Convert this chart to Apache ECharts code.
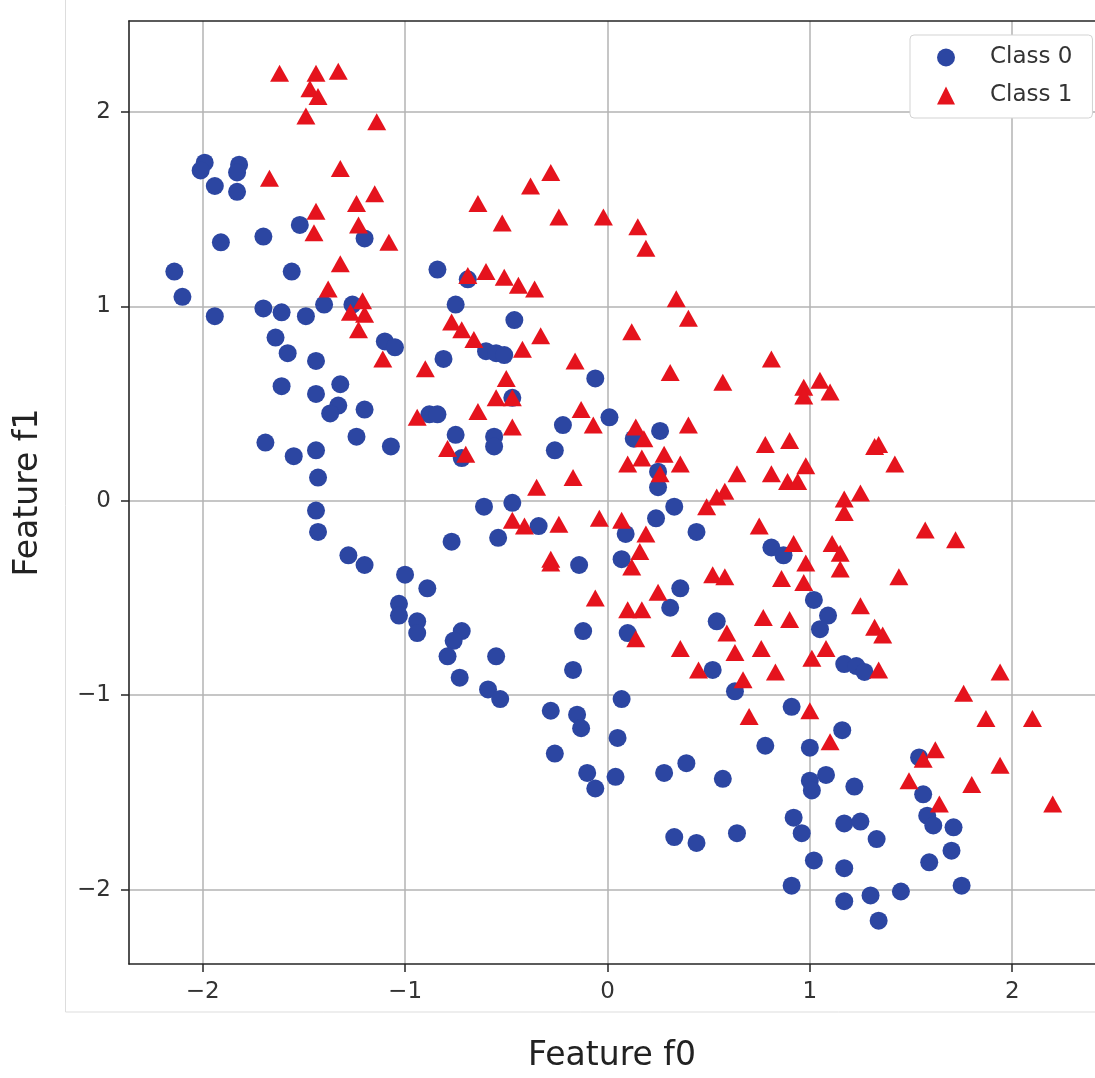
<!DOCTYPE html>
<html>
<head>
<meta charset="utf-8">
<script src="https://cdn.jsdelivr.net/npm/echarts@6/dist/echarts.min.js"></script>
<style>
  html, body { margin: 0; padding: 0; background: #fff; }
  #chart { width: 1095px; height: 1078px; }
</style>
</head>
<body>
<div id="chart"></div>
<script>
// points, [f0, f1]
const class0 = [
  [-1.99, 1.74], [-2.01, 1.70], [-1.82, 1.73], [-1.83, 1.69], [-1.94, 1.62], [-1.83, 1.59],
  [-1.52, 1.42], [-1.20, 1.35], [-1.91, 1.33], [-1.70, 1.36], [-2.14, 1.18], [-1.56, 1.18],
  [-2.10, 1.05], [-1.70, 0.99], [-1.61, 0.97], [-1.49, 0.95], [-1.40, 1.01], [-1.26, 1.01],
  [-1.94, 0.95], [-1.64, 0.84], [-1.58, 0.76], [-1.44, 0.72], [-1.61, 0.59], [-1.44, 0.55],
  [-1.32, 0.60], [-1.33, 0.49], [-1.37, 0.45], [-1.20, 0.47], [-1.24, 0.33], [-1.69, 0.30],
  [-1.55, 0.23], [-1.44, 0.26], [-1.43, 0.12], [-1.44, -0.05], [-1.43, -0.16], [-1.28, -0.28], [-1.20, -0.33],
  [-1.10, 0.82], [-1.05, 0.79], [-0.84, 1.19], [-0.75, 1.01], [-0.46, 0.93], [-0.69, 1.14],
  [-0.81, 0.73], [-0.60, 0.77], [-0.55, 0.76], [-0.51, 0.75], [-0.06, 0.63],
  [-0.88, 0.445], [-0.84, 0.445], [-0.47, 0.53], [-0.75, 0.34], [-0.56, 0.33], [-0.56, 0.28],
  [-1.07, 0.28], [-0.72, 0.22], [-0.22, 0.39], [-0.26, 0.26], [0.01, 0.43],
  [-0.61, -0.03], [-0.47, -0.01], [-0.34, -0.13], [-0.54, -0.19], [-0.77, -0.21], [-0.14, -0.33],
  [-1.00, -0.38], [-0.89, -0.45], [-1.03, -0.53], [-1.03, -0.59], [-0.94, -0.62], [-0.94, -0.68],
  [-0.72, -0.67], [-0.76, -0.72], [-0.12, -0.67], [-0.79, -0.80], [-0.55, -0.80], [-0.73, -0.91],
  [-0.59, -0.97], [-0.53, -1.02], [-0.17, -0.87], [-0.28, -1.08], [-0.15, -1.10], [-0.13, -1.17],
  [-0.26, -1.30], [-0.10, -1.40], [-0.06, -1.48], [0.07, -1.02], [0.05, -1.22], [0.04, -1.42],
  [0.26, 0.36], [0.13, 0.32], [0.25, 0.15], [0.25, 0.07], [0.33, -0.03], [0.24, -0.09], [0.09, -0.17],
  [0.44, -0.16], [0.81, -0.24], [0.87, -0.28], [0.07, -0.30], [0.36, -0.45], [0.31, -0.55], [0.54, -0.62],
  [0.10, -0.68], [1.02, -0.51], [1.09, -0.59], [1.05, -0.66],
  [1.17, -0.84], [1.23, -0.85], [1.27, -0.88], [0.52, -0.87], [0.63, -0.98], [0.91, -1.06], [1.16, -1.18],
  [0.78, -1.26], [1.00, -1.27], [0.39, -1.35], [0.28, -1.40], [0.57, -1.43], [1.08, -1.41], [1.00, -1.44],
  [1.01, -1.49], [1.22, -1.47],
  [0.92, -1.63], [0.96, -1.71], [0.33, -1.73], [0.44, -1.76], [0.64, -1.71], [1.17, -1.66], [1.25, -1.65],
  [1.02, -1.85], [1.17, -1.89], [0.91, -1.98], [1.17, -2.06],
  [1.54, -1.32], [1.56, -1.51], [1.58, -1.62], [1.61, -1.67], [1.71, -1.68], [1.33, -1.74], [1.70, -1.80],
  [1.59, -1.86], [1.75, -1.98], [1.45, -2.01], [1.30, -2.03], [1.34, -2.16]
];

const class1 = [
  [-1.62, 2.20], [-1.44, 2.20], [-1.33, 2.21], [-1.47, 2.12], [-1.43, 2.08], [-1.49, 1.98], [-1.14, 1.95],
  [-1.32, 1.71], [-1.67, 1.66], [-1.15, 1.58], [-1.24, 1.53], [-1.44, 1.49], [-1.23, 1.42], [-1.45, 1.38],
  [-1.08, 1.33], [-1.32, 1.22], [-1.38, 1.09], [-1.21, 1.03], [-1.27, 0.97], [-1.20, 0.96], [-1.23, 0.88],
  [-0.64, 1.53], [-0.38, 1.62], [-0.28, 1.69], [-0.52, 1.43], [-0.24, 1.46], [-0.02, 1.46],
  [-0.69, 1.16], [-0.60, 1.18], [-0.51, 1.15], [-0.44, 1.11], [-0.36, 1.09], [-0.77, 0.92], [-0.72, 0.88], [-0.33, 0.85],
  [0.15, 1.41], [0.19, 1.30], [0.34, 1.04], [0.40, 0.94], [0.12, 0.87],
  [-0.66, 0.83], [-0.42, 0.78], [-1.11, 0.73], [-0.90, 0.68], [-0.16, 0.72], [-0.50, 0.63], [-0.55, 0.53], [-0.47, 0.53],
  [-0.64, 0.46], [-0.13, 0.47], [-0.94, 0.43], [-0.07, 0.39], [-0.47, 0.38], [-0.79, 0.27], [-0.70, 0.24],
  [-0.35, 0.07], [-0.17, 0.12], [-0.47, -0.10], [-0.41, -0.13], [-0.24, -0.12], [-0.04, -0.09],
  [-0.28, -0.30], [-0.28, -0.32], [-0.06, -0.50],
  [0.81, 0.73], [0.31, 0.66], [0.57, 0.61], [0.97, 0.585], [0.97, 0.54], [1.05, 0.62], [1.10, 0.56],
  [0.40, 0.39], [0.14, 0.38], [0.18, 0.32], [0.78, 0.29], [0.90, 0.31], [0.10, 0.19], [0.17, 0.22],
  [0.28, 0.24], [0.36, 0.19], [0.26, 0.14],
  [0.64, 0.14], [0.81, 0.14], [0.98, 0.18], [0.89, 0.10], [0.94, 0.10], [0.58, 0.05], [0.54, 0.02], [0.49, -0.03],
  [1.17, 0.01], [1.17, -0.06], [1.25, 0.04], [0.07, -0.10], [0.19, -0.17], [0.75, -0.13], [0.16, -0.26], [0.92, -0.22],
  [1.11, -0.22], [1.15, -0.27], [0.12, -0.34], [0.98, -0.32], [1.15, -0.35], [0.52, -0.38], [0.58, -0.39],
  [0.86, -0.40], [0.97, -0.42],
  [0.25, -0.47], [0.10, -0.56], [0.17, -0.56], [0.77, -0.60], [0.90, -0.61], [0.59, -0.68], [0.14, -0.71],
  [0.36, -0.76], [0.63, -0.78], [0.76, -0.76], [1.08, -0.76], [1.25, -0.54],
  [1.32, 0.28], [1.34, 0.29], [1.42, 0.19], [1.57, -0.15], [1.72, -0.20], [1.44, -0.39], [1.32, -0.65], [1.36, -0.69],
  [0.45, -0.87], [0.67, -0.92], [0.83, -0.88], [1.01, -0.81], [0.70, -1.11], [1.00, -1.08], [1.10, -1.24],
  [1.34, -0.87], [1.94, -0.88], [1.76, -0.99], [1.87, -1.12], [2.10, -1.12], [1.62, -1.28], [1.56, -1.33],
  [1.94, -1.36], [1.49, -1.44], [1.80, -1.46], [1.64, -1.56], [2.20, -1.56]
];

const tickValues = [-2, -1, 0, 1, 2];
const seriesNames = ['Class 0', 'Class 1'];

const minus = v => (v < 0 ? '\u2212' + Math.abs(v) : String(v));

const chart = echarts.init(document.getElementById('chart'));

const gridLine = { show: true, lineStyle: { color: '#b3b3b3', width: 1.5 } };
const spine = { show: true, onZero: false, lineStyle: { color: '#262626', width: 1.6 } };
const tickLabel = { fontFamily: 'DejaVu Sans', fontSize: 23, color: '#333' };
const axisName = { fontFamily: 'DejaVu Sans', fontSize: 33, color: '#222' };

chart.setOption({
  animation: false,
  backgroundColor: '#fff',
  graphic: [
    {
      type: 'rect',
      shape: { x: 65.5, y: -1, width: 1040, height: 1013 },
      style: { fill: 'none', stroke: '#dddddd', lineWidth: 1 },
      z: -10
    }
  ],
  // plot box fixed in pixels: 129..1095 wide, 21..971 tall
  grid: { left: 129, top: 21, width: 966, height: 950, containLabel: false },
  legend: {
    orient: 'vertical',
    left: 910,
    top: 35,
    padding: [11, 20, 11, 27],
    itemGap: 15,
    itemWidth: 18,
    itemHeight: 18,
    backgroundColor: '#fff',
    borderColor: '#d3d3d3',
    borderWidth: 1,
    borderRadius: 4,
    textStyle: { fontFamily: 'DejaVu Sans', fontSize: 23, color: '#333', padding: [0, 0, 0, 30] },
    data: [
      { name: seriesNames[0], icon: 'circle' },
      { name: seriesNames[1], icon: 'triangle' }
    ]
  },
  xAxis: [
    {
      type: 'value',
      min: -2.364,
      max: 2.409,
      name: 'Feature f0',
      nameLocation: 'middle',
      nameGap: 76,
      nameTextStyle: axisName,
      axisLine: spine,
      axisTick: { show: true, length: 8, customValues: tickValues, lineStyle: { color: '#262626', width: 1.5 } },
      axisLabel: Object.assign({ customValues: tickValues, margin: 17, formatter: minus }, tickLabel),
      splitLine: gridLine
    },
    {
      type: 'value',
      position: 'top',
      min: -2.364,
      max: 2.409,
      axisLine: spine,
      axisTick: { show: false },
      axisLabel: { show: false },
      splitLine: { show: false }
    }
  ],
  yAxis: {
    type: 'value',
    min: -2.383,
    max: 2.469,
    name: 'Feature f1',
    nameLocation: 'middle',
    nameGap: 84,
    nameRotate: 90,
    nameTextStyle: axisName,
    axisLine: spine,
    axisTick: { show: true, length: 8, customValues: tickValues, lineStyle: { color: '#262626', width: 1.5 } },
    axisLabel: Object.assign({ customValues: tickValues, margin: 18, formatter: minus }, tickLabel),
    splitLine: gridLine
  },
  series: [
    {
      name: seriesNames[0],
      type: 'scatter',
      symbol: 'circle',
      symbolSize: 18,
      itemStyle: { color: '#2c46a2', opacity: 1 },
      data: class0
    },
    {
      name: seriesNames[1],
      type: 'scatter',
      symbol: 'triangle',
      symbolSize: [19, 17],
      itemStyle: { color: '#e5131d', opacity: 1 },
      data: class1
    }
  ]
});
</script>
</body>
</html>
